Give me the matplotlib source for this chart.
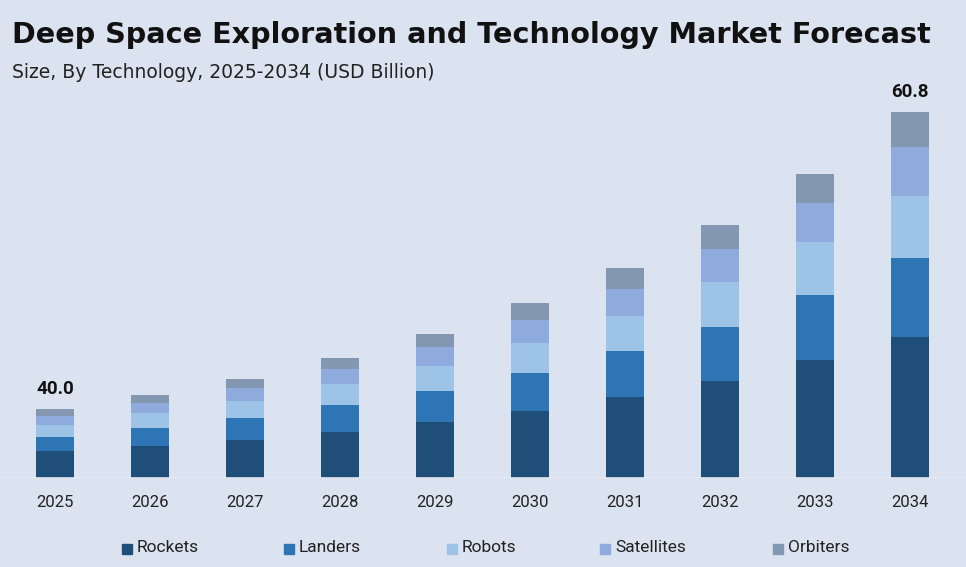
import numpy as np
import matplotlib.pyplot as plt
from matplotlib.patches import Rectangle

# Data (USD Billion); the value axis starts near 35
years = ['2025', '2026', '2027', '2028', '2029', '2030', '2031', '2032', '2033', '2034']
rockets = [37.08, 37.41, 37.85, 38.43, 39.09, 39.90, 40.86, 42.00, 43.45, 45.08]
landers = [1.00, 1.26, 1.56, 1.85, 2.21, 2.62, 3.20, 3.78, 4.55, 5.53]
robots = [0.82, 1.05, 1.17, 1.49, 1.73, 2.14, 2.49, 3.11, 3.69, 4.32]
satellites = [0.65, 0.70, 0.93, 1.03, 1.35, 1.59, 1.87, 2.33, 2.73, 3.45]
orbiters = [0.45, 0.58, 0.61, 0.81, 0.89, 1.17, 1.45, 1.68, 2.05, 2.41]
labelled_years = ['2025', '2034']

series = [
    ('Rockets', rockets, '#1f4e79'),
    ('Landers', landers, '#2e75b6'),
    ('Robots', robots, '#9dc3e6'),
    ('Satellites', satellites, '#8faadc'),
    ('Orbiters', orbiters, '#8497b0'),
]

bg = '#dbe3f0'
W, H = 966, 567
plt.rcParams['font.family'] = ['Roboto', 'DejaVu Sans']

fig = plt.figure(figsize=(W / 100, H / 100), dpi=100, facecolor=bg)
ax = fig.add_axes([0, 1 - 478 / H, 1, (478 - 100) / H])
ax.set_facecolor(bg)

x = np.arange(len(years))
bottom = np.zeros(len(years))
for name, vals, color in series:
    ax.bar(x, vals, width=0.4, bottom=bottom, color=color, label=name)
    bottom += np.array(vals)

# total labels on first and last bar
for i, yr in enumerate(years):
    if yr in labelled_years:
        ax.text(x[i], bottom[i] + 0.8, f'{bottom[i]:.1f}', ha='center', va='bottom',
                fontsize=13.5, fontweight='bold', color='#111111')

y0 = 35.19
ax.set_ylim(y0, y0 + (478 - 100) / 14.28)
ax.set_xlim(-55 / 95, 9 + 56 / 95)
ax.axhline(y0, color='#e6ebf3', lw=1.2)
ax.set_yticks([])
ax.set_xticks(x)
ax.set_xticklabels(years, fontsize=12, color='#222222')
ax.tick_params(axis='x', length=0, pad=12)
for s in ax.spines.values():
    s.set_visible(False)

fig.text(12 / W, 1 - 35 / H, 'Deep Space Exploration and Technology Market Forecast',
         fontsize=20.6, fontweight='bold', color='#111111', va='center', ha='left',
         family='DejaVu Sans')
fig.text(12 / W, 1 - 73 / H, 'Size, By Technology, 2025-2034 (USD Billion)',
         fontsize=13.5, color='#222222', va='center', ha='left', family='DejaVu Sans')

# legend: small squares with labels, evenly placed along the bottom
leg_x = [122, 284, 447, 600, 773]
for (name, _, color), lx in zip(series, leg_x):
    fig.add_artist(Rectangle((lx / W, 1 - 554 / H), 10 / W, 10 / H, color=color,
                             transform=fig.transFigure))
    fig.text((lx + 15) / W, 1 - 548 / H, name, fontsize=12.5, color='#222222',
             va='center', ha='left')

fig.savefig('out.png', dpi=100, facecolor=bg)
